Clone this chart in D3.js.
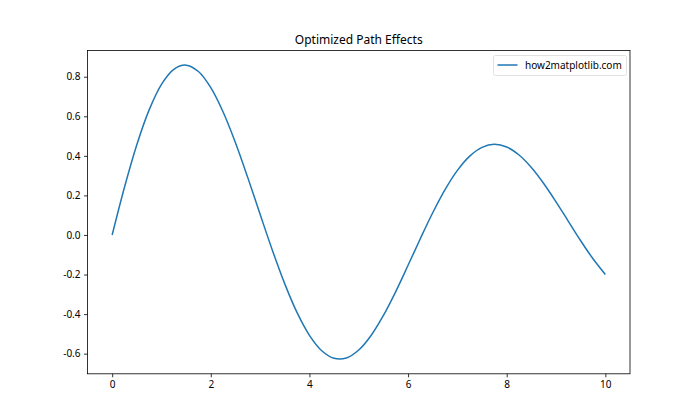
<!DOCTYPE html>
<html><head><meta charset="utf-8">
<script src="https://cdn.jsdelivr.net/npm/d3@7"></script>
<style>body{margin:0;background:#fff}svg{display:block}text{font-family:"Noto Sans","Open Sans",sans-serif}</style>
</head><body><svg id="c" width="700" height="420"></svg>
<script>
const xs = [0,0.25,0.5,0.75,1,1.25,1.5,1.75,2,2.25,2.5,2.75,3,3.25,3.5,3.75,4,4.25,4.5,4.75,5,5.25,5.5,5.75,6,6.25,6.5,6.75,7,7.25,7.5,7.75,8,8.25,8.5,8.75,9,9.25,9.5,9.75,10];
const ys = [0,0.2413,0.4560,0.6323,0.7614,0.8375,0.8585,0.8261,0.7445,0.6213,0.4661,0.2899,0.1045,-0.0782,-0.2472,-0.3929,-0.5073,-0.5852,-0.6233,-0.6215,-0.5816,-0.5081,-0.4070,-0.2860,-0.1533,-0.0178,0.1123,0.2291,0.3263,0.3986,0.4431,0.4582,0.4445,0.4043,0.3413,0.2604,0.1676,0.0691,-0.0291,-0.1205,-0.2001];
const xTicks = [0,2,4,6,8,10];
const yTicks = [-0.6,-0.4,-0.2,0.0,0.2,0.4,0.6,0.8];
const title = "Optimized Path Effects";
const seriesName = "how2matplotlib.com";

const svg = d3.select("#c");
const L=87.5, R=630, T=50.4, B=373.8;
const yMin=-0.6275, yMax=0.8587, ypad=(yMax-yMin)*0.05;
const x = d3.scaleLinear().domain([-0.5,10.5]).range([L,R]);
const y = d3.scaleLinear().domain([yMin-ypad,yMax+ypad]).range([B,T]);
const fmt = v => (v<0?"-":"")+Math.abs(v).toFixed(1);

const gx = svg.append("g").attr("transform",`translate(0,${B})`)
  .call(d3.axisBottom(x).tickValues(xTicks).tickSize(3.5).tickPadding(3.5).tickFormat(d3.format("d")));
const gy = svg.append("g").attr("transform",`translate(${L},0)`)
  .call(d3.axisLeft(y).tickValues(yTicks).tickSize(3.5).tickPadding(3.5).tickFormat(fmt));
[gx,gy].forEach(g=>{g.select(".domain").remove();g.selectAll("line").attr("stroke","#000").attr("stroke-width",0.8);
  g.selectAll("text").attr("font-size",10).attr("fill","#000").attr("font-family","'Noto Sans','Open Sans',sans-serif");});

svg.append("path").datum(xs.map((d,i)=>[d,ys[i]]))
  .attr("fill","none").attr("stroke","#1f77b4").attr("stroke-width",1.5)
  .attr("d",d3.line().x(d=>x(d[0])).y(d=>y(d[1])).curve(d3.curveCatmullRom.alpha(0.5)));

svg.append("rect").attr("x",L).attr("y",T).attr("width",R-L).attr("height",B-T)
  .attr("fill","none").attr("stroke","#000").attr("stroke-width",0.8);

svg.append("text").attr("x",(L+R)/2).attr("y",T-6).attr("text-anchor","middle")
  .attr("font-size",12).attr("fill","#000").text(title);

const lg = svg.append("g");
lg.append("rect").attr("x",493.5).attr("y",55.5).attr("width",133).attr("height",20).attr("rx",2)
  .attr("fill","#fff").attr("fill-opacity",0.8).attr("stroke","#d9d9d9").attr("stroke-width",0.8);
lg.append("line").attr("x1",497.5).attr("x2",517.5).attr("y1",65).attr("y2",65)
  .attr("stroke","#1f77b4").attr("stroke-width",1.5);
lg.append("text").attr("x",525).attr("y",69).attr("font-size",10).attr("fill","#000").text(seriesName);
</script></body></html>
